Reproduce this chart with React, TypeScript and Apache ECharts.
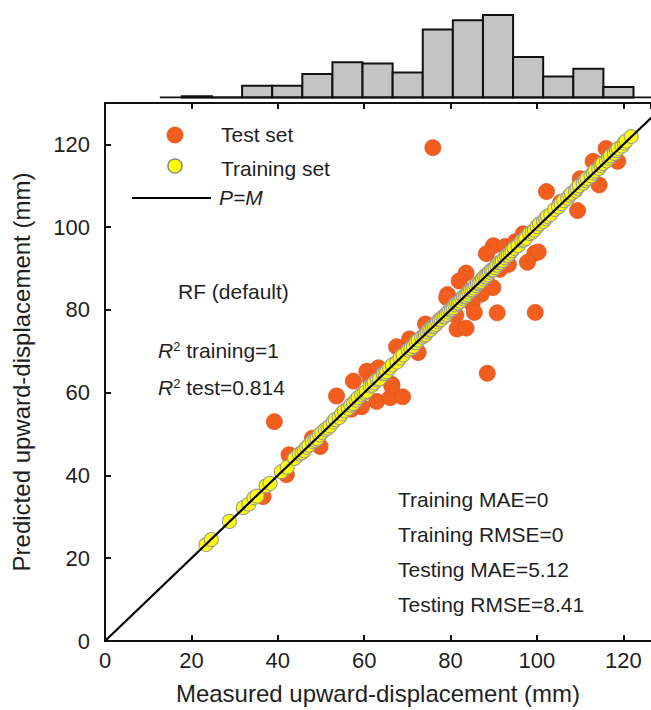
import React, { useEffect, useRef } from "react";
import * as echarts from "echarts";

// Histogram of measured values (bin edges in mm, counts)
const binEdges = [17.8, 24.77, 31.74, 38.71, 45.68, 52.65, 59.62, 66.59, 73.56, 80.53, 87.5, 94.47, 101.44, 108.41, 115.38, 122.35];
const binCounts = [1, 0, 9, 9, 18, 27, 26, 19, 52, 59, 63, 31, 16, 22, 8];

// Test set: [measured, predicted]
const testSet = [
  [75.9, 119.2], [116, 119], [113, 115.9], [118.7, 115.9], [102.2, 108.6], [114.4, 110.2],
  [110, 111.7], [109.4, 104], [96.8, 98.4], [89.9, 95.5], [92.6, 95.3], [88.3, 93.6],
  [99.5, 93.7], [100.3, 94], [97.8, 91.5], [93.4, 91], [91.4, 89.8], [83.6, 88.9],
  [82, 87], [88.3, 88.2], [89.8, 85.4], [87.1, 83.8], [79.3, 83.7], [79.1, 83],
  [85, 81.5], [85.5, 79.4], [81.2, 78.7], [90.8, 79.3], [99.6, 79.4], [74.2, 76.6],
  [81.5, 75.4], [83.6, 75.6], [67.5, 71.1], [72.5, 69.7], [66.4, 62], [88.5, 64.7],
  [39.2, 53], [53.6, 59.2], [57.5, 62.8], [60.6, 65.2], [62.9, 57.9], [59.4, 56.6],
  [66, 58.8], [68.9, 59], [66.4, 61.6], [63.3, 66], [49.8, 47], [42.6, 45],
  [42, 40.2], [36.6, 34.9], [70.5, 73], [105.5, 106], [95, 96.5], [57, 56],
  [48, 49], [61.5, 63],
];

// Training set: [measured, predicted]
const trainingSet = [
  [23.4, 23.3], [24.6, 24.5], [28.8, 28.9], [32.0, 32.2], [33.3, 33.1], [34.5, 34.6], [35.2, 35.0],
  [37.3, 37.5], [38.2, 38.1], [40.8, 40.9], [42.2, 42.0], [43.9, 44.1], [45.0, 45.2], [45.6, 45.5],
  [46.1, 46.0], [46.7, 46.8], [47.2, 47.3], [48.0, 48.2], [48.6, 48.5], [49.1, 48.9], [49.7, 49.8],
  [50.2, 50.4], [51.0, 51.1], [51.6, 51.5], [52.1, 52.0], [52.8, 52.9], [53.3, 53.5], [54.2, 54.0],
  [54.8, 54.9], [55.4, 55.6], [56.3, 56.2], [56.9, 57.0], [57.5, 57.4], [58.1, 58.2], [58.6, 58.8],
  [59.4, 59.5], [60.0, 59.9], [60.5, 60.3], [61.4, 61.6], [61.9, 61.8], [62.3, 62.4], [63.0, 63.1],
  [63.5, 63.3], [64.4, 64.6], [64.8, 64.7], [65.2, 65.1], [65.9, 66.0], [66.5, 66.7], [67.6, 67.4],
  [68.3, 68.4], [69.0, 69.1], [70.2, 70.3], [70.8, 70.7], [71.4, 71.2], [72.0, 72.1], [72.5, 72.7],
  [73.3, 73.4], [73.8, 73.7], [74.2, 74.0], [74.6, 74.7], [75.0, 75.2], [75.4, 75.3], [75.8, 75.9],
  [76.2, 76.1], [76.6, 76.5], [77.0, 77.1], [77.4, 77.6], [77.8, 77.7], [78.2, 78.3], [78.6, 78.5],
  [79.0, 78.9], [79.4, 79.5], [79.8, 80.0], [80.2, 80.1], [80.6, 80.5], [81.0, 81.2], [81.4, 81.6],
  [81.8, 81.7], [82.2, 82.1], [82.6, 82.8], [83.0, 83.2], [83.4, 83.3], [83.8, 83.7], [84.2, 84.3],
  [84.6, 84.8], [85.0, 84.9], [85.4, 85.3], [85.8, 85.9], [86.2, 86.4], [86.6, 86.5], [87.0, 86.9],
  [87.4, 87.5], [87.8, 88.0], [88.2, 88.1], [88.6, 88.5], [89.0, 89.1], [89.4, 89.6], [89.8, 89.7],
  [90.3, 90.2], [90.7, 90.8], [91.2, 91.4], [91.6, 91.5], [92.0, 91.9], [92.5, 92.6], [92.9, 93.1],
  [93.3, 93.2], [93.8, 93.7], [94.2, 94.3], [94.7, 94.9], [95.6, 95.5], [96.5, 96.7], [97.0, 96.9],
  [97.4, 97.3], [98.3, 98.5], [98.9, 98.8], [99.4, 99.3], [100.0, 100.1], [100.6, 100.8], [101.5, 101.4],
  [102.0, 102.1], [102.4, 102.6], [103.2, 103.1], [104.1, 104.3], [105.0, 104.9], [105.6, 105.7],
  [106.2, 106.4], [107.1, 107.0], [107.6, 107.7], [108.0, 108.2], [108.9, 108.8], [109.3, 109.4],
  [109.8, 110.0], [110.7, 110.6], [111.2, 111.3], [111.6, 111.8], [112.5, 112.4], [113.0, 113.1],
  [113.4, 113.6], [114.3, 114.2], [114.8, 114.9], [115.2, 115.4], [116.1, 116.0], [116.6, 116.7],
  [117.0, 117.2], [117.9, 117.8], [118.4, 118.5], [118.8, 119.0], [119.7, 119.6], [120.2, 120.3],
  [120.6, 120.8], [121.8, 121.9],
];

// P = M reference line
const identityLine = [[0, 0], [130, 130]];
const histBaseline = [[12.7, 0], [126.4, 0]];

const X_MAX = 126.4;
const Y_MAX = 130;
const FONT = "Liberation Sans, Arial, sans-serif";
const TXT = "#1f1f1f";

export default function App() {
  const ref = useRef<HTMLDivElement>(null);
  useEffect(() => {
    if (!ref.current) return;
    const chart = echarts.init(ref.current, null, { renderer: "svg" });
    const axisLine = { show: true, onZero: false, lineStyle: { color: "#111", width: 2 } };
    const axisTick = { show: true, inside: true, length: 6, lineStyle: { color: "#111", width: 2 } };
    const ann = (x: number, y: number, text: string, extra: any = {}) => ({
      type: "text",
      left: x,
      top: y,
      z: 100,
      style: { text, fill: TXT, font: `21px ${FONT}`, ...extra },
    });
    const r2Rich = {
      i: { fontStyle: "italic", fontSize: 21, fontFamily: FONT, fill: TXT, verticalAlign: "bottom" },
      s: { fontSize: 13, fontFamily: FONT, fill: TXT, verticalAlign: "top" },
    };
    chart.setOption({
      animation: false,
      backgroundColor: "#fff",
      grid: [
        { left: 105, right: 0, top: 103, bottom: 69 },
        { left: 105, right: 0, top: 15, height: 82.5 },
      ],
      xAxis: [
        {
          type: "value", gridIndex: 0, min: 0, max: X_MAX, interval: 20, position: "bottom",
          axisLine, axisTick, splitLine: { show: false },
          axisLabel: { showMaxLabel: false, color: TXT, fontSize: 22, fontFamily: FONT, margin: 8 },
          name: "Measured upward-displacement (mm)", nameLocation: "middle", nameGap: 40,
          nameTextStyle: { color: TXT, fontSize: 24, fontFamily: FONT },
        },
        {
          type: "value", gridIndex: 0, min: 0, max: X_MAX, interval: 20, position: "top",
          axisLine, axisTick, splitLine: { show: false }, axisLabel: { show: false },
        },
        { type: "value", gridIndex: 1, min: 0, max: X_MAX, show: false },
      ],
      yAxis: [
        {
          type: "value", gridIndex: 0, min: 0, max: Y_MAX, interval: 20,
          axisLine, axisTick, splitLine: { show: false },
          axisLabel: { showMaxLabel: false, color: TXT, fontSize: 22, fontFamily: FONT, margin: 15 },
          name: "Predicted upward-displacement (mm)", nameLocation: "middle", nameGap: 72,
          nameTextStyle: { color: TXT, fontSize: 24, fontFamily: FONT },
        },
        { type: "value", gridIndex: 1, min: 0, max: 63, show: false },
      ],
      series: [
        {
          type: "custom", coordinateSystem: "cartesian2d", xAxisIndex: 2, yAxisIndex: 1,
          data: binCounts.map((c, i) => [binEdges[i], binEdges[i + 1], c]),
          encode: { x: [0, 1], y: 2 },
          renderItem: (params: any, api: any) => {
            const p0 = api.coord([api.value(0), api.value(2)]);
            const p1 = api.coord([api.value(1), 0]);
            return {
              type: "rect",
              shape: { x: p0[0], y: p0[1], width: p1[0] - p0[0], height: p1[1] - p0[1] },
              style: { fill: "#c4c4c4", stroke: "#111", lineWidth: 2 },
            };
          },
        },
        {
          type: "line", xAxisIndex: 2, yAxisIndex: 1, data: histBaseline, symbol: "none",
          lineStyle: { color: "#111", width: 2 },
        },
        {
          name: "Test set", type: "scatter", xAxisIndex: 0, yAxisIndex: 0, data: testSet,
          symbolSize: 16,
          itemStyle: { color: "#f25e1d", borderColor: "#e0541a", borderWidth: 0.8, opacity: 1 },
        },
        {
          name: "Training set", type: "scatter", xAxisIndex: 0, yAxisIndex: 0, data: trainingSet,
          symbolSize: 14,
          itemStyle: { color: "#ffff00", borderColor: "#9a9a9a", borderWidth: 1.1, opacity: 1 },
        },
        {
          name: "P=M", type: "line", xAxisIndex: 0, yAxisIndex: 0, data: identityLine, symbol: "none",
          clip: true, lineStyle: { color: "#000", width: 2.2 }, z: 5,
        },
      ],
      graphic: [
        { type: "circle", z: 100, shape: { cx: 175, cy: 135, r: 8 }, style: { fill: "#f25e1d", stroke: "#e0541a", lineWidth: 0.8 } },
        ann(221, 124, "Test set"),
        { type: "circle", z: 100, shape: { cx: 175, cy: 166, r: 7 }, style: { fill: "#ffff00", stroke: "#8a8a8a", lineWidth: 1.5 } },
        ann(221, 158, "Training set"),
        { type: "line", z: 100, shape: { x1: 132, y1: 198, x2: 211, y2: 198 }, style: { stroke: "#000", lineWidth: 2 } },
        ann(219, 187, "P=M", { font: `italic 21px ${FONT}` }),
        ann(178, 281, "RF (default)"),
        {
          type: "text", left: 158, top: 340, z: 100,
          style: { text: "{i|R}{s|2} training=1", fill: TXT, font: `21px ${FONT}`, rich: r2Rich },
        },
        {
          type: "text", left: 158, top: 377, z: 100,
          style: { text: "{i|R}{s|2} test=0.814", fill: TXT, font: `21px ${FONT}`, rich: r2Rich },
        },
        ann(398, 489, "Training MAE=0"),
        ann(398, 524, "Training RMSE=0"),
        ann(398, 559, "Testing MAE=5.12"),
        ann(398, 594, "Testing RMSE=8.41"),
      ],
    });
    return () => chart.dispose();
  }, []);
  return (
    <div
      ref={ref}
      style={{ position: "fixed", left: 0, top: 0, width: 651, height: 710, background: "#fff" }}
    />
  );
}
